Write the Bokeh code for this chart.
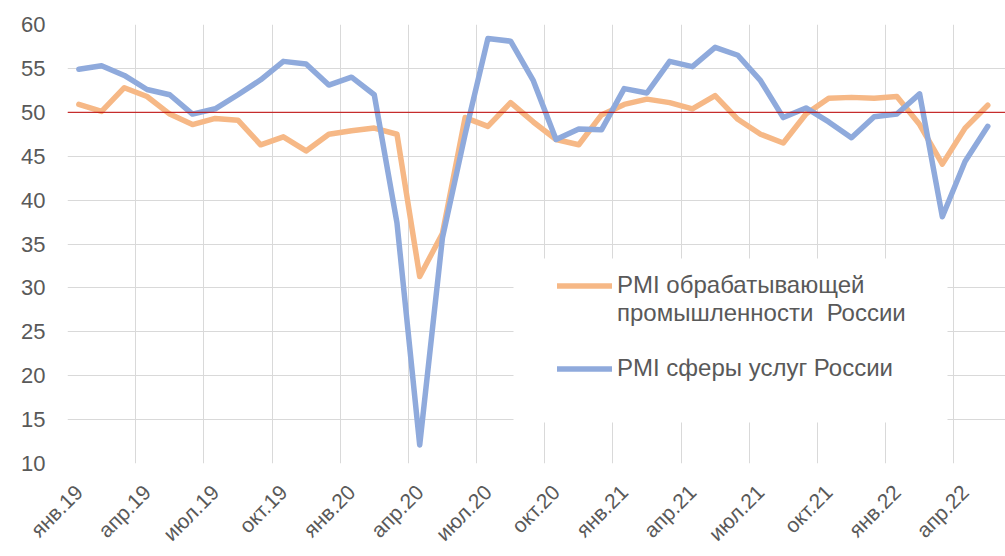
import math
from bokeh.plotting import figure
from bokeh.models import Range1d, FixedTicker, Span, Legend, LegendItem, BoxAnnotation
from bokeh.embed import file_html
from bokeh.resources import INLINE

# --- data -------------------------------------------------------------
months = [
    "янв.19", "фев.19", "мар.19", "апр.19", "май.19", "июн.19", "июл.19", "авг.19", "сен.19", "окт.19", "ноя.19", "дек.19",
    "янв.20", "фев.20", "мар.20", "апр.20", "май.20", "июн.20", "июл.20", "авг.20", "сен.20", "окт.20", "ноя.20", "дек.20",
    "янв.21", "фев.21", "мар.21", "апр.21", "май.21", "июн.21", "июл.21", "авг.21", "сен.21", "окт.21", "ноя.21", "дек.21",
    "янв.22", "фев.22", "мар.22", "апр.22", "май.22",
]
manufacturing = [
    50.9, 50.1, 52.8, 51.8, 49.8, 48.6, 49.3, 49.1, 46.3, 47.2, 45.6, 47.5,
    47.9, 48.2, 47.5, 31.3, 36.2, 49.4, 48.4, 51.1, 48.9, 46.9, 46.3, 49.7,
    50.9, 51.5, 51.1, 50.4, 51.9, 49.2, 47.5, 46.5, 49.8, 51.6, 51.7, 51.6,
    51.8, 48.6, 44.1, 48.2, 50.8,
]
services = [
    54.9, 55.3, 54.2, 52.6, 52.0, 49.8, 50.4, 52.0, 53.7, 55.8, 55.5, 53.1,
    54.0, 52.0, 37.4, 12.1, 35.7, 47.5, 58.4, 58.1, 53.6, 46.9, 48.1, 48.0,
    52.7, 52.2, 55.8, 55.2, 57.4, 56.5, 53.6, 49.4, 50.5, 48.9, 47.1, 49.5,
    49.8, 52.1, 38.1, 44.4, 48.4,
]
tick_labels = ["янв.19", "апр.19", "июл.19", "окт.19", "янв.20", "апр.20", "июл.20",
               "окт.20", "янв.21", "апр.21", "июл.21", "окт.21", "янв.22", "апр.22"]
y_ticks = [10, 15, 20, 25, 30, 35, 40, 45, 50, 55, 60]
threshold = 50
legend_lines = ["PMI обрабатывающей", "промышленности  России", " ", "PMI сферы услуг России"]

# --- styling ----------------------------------------------------------
FONT = "Liberation Sans"
TEXT = "#595959"
GRID = "#D9D9D9"
ORANGE = "#F6B886"
BLUE = "#8FAADC"

x = list(range(len(months)))
tick_pos = [months.index(t) for t in tick_labels]
grid_pos = [t - 0.5 for t in tick_pos]

p = figure(width=1005, height=556, output_backend="svg", toolbar_location=None,
           x_range=Range1d(-0.5, 40.78), y_range=Range1d(10, 60),
           min_border_left=67, min_border_right=0, min_border_top=24, min_border_bottom=89)
p.outline_line_color = None
p.background_fill_color = "white"
p.border_fill_color = "white"

# axes
p.xaxis.ticker = FixedTicker(ticks=tick_pos)
p.xaxis.major_label_overrides = {pos: lab for pos, lab in zip(tick_pos, tick_labels)}
p.xaxis.major_label_orientation = math.pi / 4
p.yaxis.ticker = FixedTicker(ticks=y_ticks)
for ax in (p.xaxis, p.yaxis):
    ax.axis_line_color = None
    ax.major_tick_line_color = None
    ax.minor_tick_line_color = None
    ax.major_tick_out = 0
    ax.major_tick_in = 0
    ax.major_label_text_font = FONT
    ax.major_label_text_color = TEXT
p.yaxis.major_label_text_font_size = "22px"
p.xaxis.major_label_text_font_size = "21px"
p.yaxis.major_label_standoff = 22
p.xaxis.major_label_standoff = 25

# grid
p.xgrid.ticker = FixedTicker(ticks=grid_pos)
p.ygrid.ticker = FixedTicker(ticks=y_ticks)
for g in (p.xgrid, p.ygrid):
    g.grid_line_color = GRID
    g.grid_line_width = 1

p.add_layout(Span(location=threshold, dimension="width", line_color="#C00000", line_width=1))

r1 = p.line(x, manufacturing, line_color=ORANGE, line_width=5.5, line_join="round", line_cap="round")
r2 = p.line(x, services, line_color=BLUE, line_width=5.5, line_join="round", line_cap="round")
blank = p.line(x=[], y=[], line_alpha=0)

# legend background box (screen space)
p.add_layout(BoxAnnotation(left=513, right=947, top=258, bottom=422,
                           left_units="canvas", right_units="canvas",
                           top_units="canvas", bottom_units="canvas",
                           fill_color="white", fill_alpha=1.0, line_color=None))

legend = Legend(items=[LegendItem(label=legend_lines[0], renderers=[r1]),
                       LegendItem(label=legend_lines[1], renderers=[blank]),
                       LegendItem(label=legend_lines[2], renderers=[blank]),
                       LegendItem(label=legend_lines[3], renderers=[r2])],
                location=(490, 81), orientation="vertical",
                label_text_font=FONT, label_text_font_size="24px", label_text_color=TEXT,
                glyph_width=55, glyph_height=27, label_height=27, label_standoff=5,
                padding=0, spacing=0, margin=0,
                border_line_color=None, background_fill_alpha=0.0)
p.add_layout(legend, "center")

open("out.html", "w").write(file_html(p, INLINE))
